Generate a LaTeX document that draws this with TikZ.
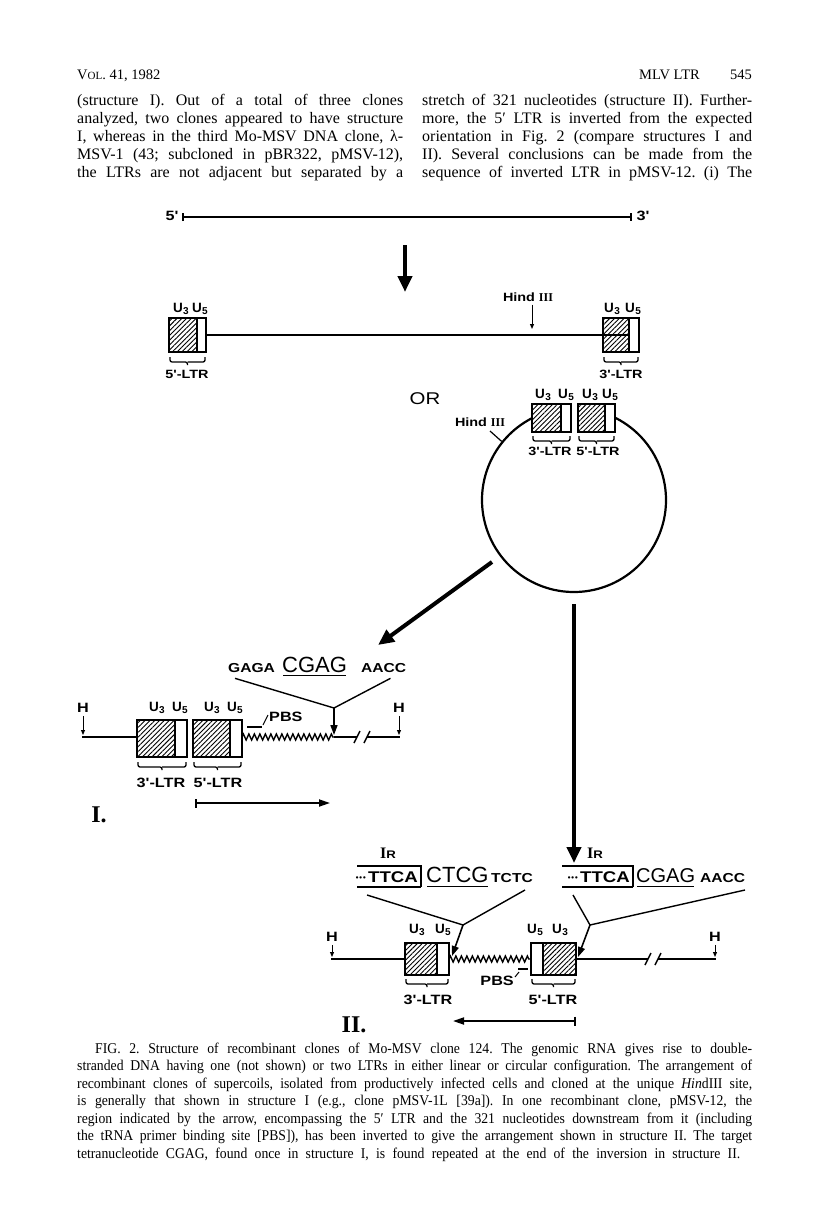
\documentclass[tikz,border=0pt]{standalone}
\usepackage{fontspec}
\setmainfont{Liberation Serif}
\newfontfamily\capfont[FakeStretch=0.92]{Liberation Serif}
\newfontfamily\labfont[FakeStretch=1.2]{Liberation Sans}
\newfontfamily\seqfont[FakeStretch=1.2]{Liberation Sans}
\newfontfamily\plainsans{Liberation Sans}
\usetikzlibrary{arrows.meta, positioning, calc, patterns.meta, decorations.pathmorphing}
\frenchspacing

% U3 / U5 region labels
\newcommand{\uu}[1]{{\plainsans U\kern0.3pt\raisebox{-2.5pt}{\fontsize{10}{10}\selectfont #1}}}
% LTR box: hatch x1..x2, frame x3..x4, top, bottom
\newcommand{\ltrbx}[6]{%
  \fill[hatch] (#1,#5) rectangle (#2,#6);
  \draw[frame] (#3,#5) rectangle (#4,#6) (#1,#5) -- (#1,#6) (#2,#5) -- (#2,#6);}
% square brace under a box: x1, x2, y
\newcommand{\ubr}[3]{%
  \draw[brc] (#1,#3) |- ({(#1+#2)/2},#3+5) -- ({(#1+#2)/2},#3+8);
  \draw[brc] (#2,#3) |- ({(#1+#2)/2},#3+5);}
% break mark on a line
\newcommand{\brk}[2]{\draw[line width=1.4pt] (#1-3,#2+6) -- (#1+3,#2-6) (#1+7,#2+6) -- (#1+13,#2-6);}

\begin{document}
\begin{tikzpicture}[x=1pt, y=-1pt,
  dna/.style={line width=1.8pt},
  frame/.style={line width=1.6pt},
  hatch/.style={pattern={Lines[angle=45,distance=3.4pt,line width=0.9pt]}},
  brc/.style={line width=1.3pt, rounded corners=2pt},
  ring/.style={line width=2.2pt},
  bigarrow/.style={line width=4pt, -{Triangle[length=16pt,width=14pt]}},
  smallarrow/.style={line width=1pt, -{Triangle[length=5pt,width=4pt]}},
  midarrow/.style={line width=1.6pt, -{Triangle[length=10pt,width=7pt]}},
  lab/.style={font=\labfont\bfseries\fontsize{13.5}{14}\selectfont, inner sep=0pt},
  slab/.style={font=\labfont\bfseries\fontsize{12}{13}\selectfont, inner sep=0pt},
  ulab/.style={font=\bfseries\fontsize{13.5}{14}\selectfont, inner sep=0pt},
  seq/.style={font=\seqfont\bfseries\fontsize{13}{14}\selectfont, inner sep=0pt, anchor=base west},
  bigseq/.style={font=\plainsans\fontsize{22}{22}\selectfont, inner sep=0pt, anchor=base west},
  txt/.style={font=\fontsize{16}{18}\selectfont, inner sep=0pt, anchor=base west},
  captxt/.style={font=\capfont\fontsize{14.9}{17}\selectfont, inner sep=0pt, anchor=base west},
  roman/.style={font=\bfseries\fontsize{24}{24}\selectfont, inner sep=0pt}]
\useasboundingbox (0,0) rectangle (816,1207);

% running head and text
\node[txt, font=\fontsize{14.5}{17}\selectfont] (vol) at (77,80) {V{\fontsize{11}{10}\selectfont OL}. 41, 1982};
\node[txt, anchor=base east, font=\fontsize{14.5}{17}\selectfont] (pg) at (752,80) {545};
\node[txt, anchor=base east, font=\fontsize{14.5}{17}\selectfont] (runt) at (700,80) {MLV LTR};
\foreach \lin [count=\i] in {{(structure I). Out of a total of three clones},
  {analyzed, two clones appeared to have structure},
  {I, whereas in the third Mo-MSV DNA clone, λ-},
  {MSV-1 (43; subcloned in pBR322, pMSV-12),},
  {the LTRs are not adjacent but separated by a}}
  \node[txt] (lft\i) at (77,{87+18*\i}) {\makebox[326pt][s]{\lin}};
\foreach \lin [count=\i] in {{stretch of 321 nucleotides (structure II). Further-},
  {more, the 5′ LTR is inverted from the expected},
  {orientation in Fig. 2 (compare structures I and},
  {II). Several conclusions can be made from the},
  {sequence of inverted LTR in pMSV-12. (i) The}}
  \node[txt] (rgt\i) at (422,{87+18*\i}) {\makebox[330pt][s]{\lin}};

% genomic RNA
\draw[dna, {Bar[width=8pt]}-{Bar[width=8pt]}] (182,217) -- (632,217);
\node[lab] (p5) at (172,216) {5'};
\node[lab] (p3) at (643,216) {3'};
\draw[bigarrow] (405,245) -- (405,292);

% linear DNA
\ltrbx{169}{197}{169}{206}{318}{352}
\ltrbx{603}{629}{603}{639}{318}{352}
\draw[dna] (206,335) -- (629,335);
\node[ulab] (ua1) at (181,309) {\uu3};
\node[ulab] (ua2) at (200,309) {\uu5};
\node[ulab] (ub1) at (612,309) {\uu3};
\node[ulab] (ub2) at (633,309) {\uu5};
\ubr{170}{205}{357}
\ubr{604}{638}{357}
\node[slab] (ltrL5) at (187,374) {5'-LTR};
\node[slab] (ltrL3) at (621,374) {3'-LTR};
\node[slab] (hindL) at (528,297) {Hind {\rmfamily III}};
\coordinate (hindLt) at (532,329);
\draw[smallarrow] (hindL.south -| hindLt) ++(0,3) -- (hindLt);
\node[lab, font=\labfont\fontsize{17}{17}\selectfont] (or) at (425,399) {OR};

% circular DNA
\coordinate (circ) at (574,500);
\ltrbx{532}{561}{532}{571}{404}{432}
\ltrbx{578}{605}{578}{615}{404}{432}
\draw[ring] ($(circ)+(-63:92)$) arc[start angle=-63, end angle=243, radius=92];
\node[ulab] (uc1) at (543,395) {\uu3};
\node[ulab] (uc2) at (566,395) {\uu5};
\node[ulab] (uc3) at (590,395) {\uu3};
\node[ulab] (uc4) at (610,395) {\uu5};
\ubr{533}{570}{436}
\ubr{579}{614}{436}
\node[slab] (ltrC3) at (550,451) {3'-LTR};
\node[slab] (ltrC5) at (598,451) {5'-LTR};
\node[slab] (hindC) at (480,422) {Hind {\rmfamily III}};
\draw[line width=1.2pt] (490,431) -- ($(circ)+(-141:93)$);

% arrows to the two clone structures
\coordinate (dgA) at (492,562);
\coordinate (dgB) at (378,645);
\draw[bigarrow] (dgA) -- (dgB);
\coordinate (vtA) at (574,604);
\coordinate (vtB) at (574,863);
\draw[bigarrow] (vtA) -- (vtB);

% structure I
\node[seq] (gagaA) at (228,672) {GAGA};
\node[bigseq] (cgagA) at (282,672) {CGAG};
\node[seq] (aaccA) at (361,672) {AACC};
\draw[line width=1.3pt] ($(cgagA.south west)+(1,3)$) -- ($(cgagA.south east)+(-1,3)$);
\coordinate (insA) at (334,708);
\draw[line width=1.4pt] ($(gagaA.south west)+(7,6)$) -- (insA) -- ($(aaccA.south east)+(-16,6)$);
\draw[midarrow] (insA) -- (334,735);
\node[lab] (hA) at (83,708) {H};
\node[lab] (hB) at (399,708) {H};
\draw[smallarrow] (hA.south) ++(0,3) -- (83,735);
\draw[smallarrow] (hB.south) ++(0,3) -- (399,735);
\draw[dna] (82,737) -- (137,737);
\ltrbx{137}{175}{137}{187}{720}{757}
\ltrbx{193}{230}{193}{242}{720}{757}
\draw[line width=1.4pt, decorate, decoration={zigzag, segment length=5.5pt, amplitude=3pt}] (242,737) -- (334,737);
\draw[dna] (334,737) -- (357,737);
\brk{357}{737}
\draw[dna] (367,737) -- (400,737);
\node[ulab] (uI1) at (157,708) {\uu3};
\node[ulab] (uI2) at (180,708) {\uu5};
\node[ulab] (uI3) at (212,708) {\uu3};
\node[ulab] (uI4) at (235,708) {\uu5};
\ubr{138}{186}{762}
\ubr{194}{241}{762}
\node[lab] (ltrI3) at (161,783) {3'-LTR};
\node[lab] (ltrI5) at (218,783) {5'-LTR};
\draw[line width=2.2pt] (247,727) -- (262,727);
\draw[line width=1pt] (263,725) -- (268,715);
\node[lab, anchor=west] (pbsI) at (269,717) {PBS};
\draw[line width=1.8pt, {Bar[width=9pt]}-{Triangle[length=11pt,width=7pt]}] (195,803) -- (330,803);
\node[roman] (numI) at (99,815) {I.};

% structure II
\node[lab, font=\bfseries\fontsize{16}{16}\selectfont] (irA) at (388,853) {I{\labfont\fontsize{11}{11}\selectfont R}};
\node[lab, font=\bfseries\fontsize{16}{16}\selectfont] (irB) at (595,853) {I{\labfont\fontsize{11}{11}\selectfont R}};
\node[seq, anchor=base east, font=\labfont\bfseries\fontsize{15.5}{16}\selectfont] (ttcaA) at (418,882) {TTCA};
\node[seq, anchor=base east, font=\labfont\bfseries\fontsize{15.5}{16}\selectfont] (ttcaB) at (630,882) {TTCA};
\node[seq, anchor=base east, font=\bfseries\fontsize{14}{14}\selectfont] (dotA) at ([xshift=-1pt]ttcaA.base west) {\textperiodcentered\kern-1pt\textperiodcentered\kern-1pt\textperiodcentered};
\node[seq, anchor=base east, font=\bfseries\fontsize{14}{14}\selectfont] (dotB) at ([xshift=-1pt]ttcaB.base west) {\textperiodcentered\kern-1pt\textperiodcentered\kern-1pt\textperiodcentered};
\draw[line width=1.3pt] (357,866) -- (421,866) -- (421,887) (357,887) -- (421,887);
\draw[line width=1.3pt] (562,866) -- (633,866) -- (633,887) (562,887) -- (633,887);
\node[bigseq] (ctcgA) at (426,882) {CTCG};
\node[bigseq, font=\plainsans\fontsize{20}{20}\selectfont] (cgagB) at (636,882) {CGAG};
\draw[line width=1.3pt] ($(ctcgA.south west)+(1,4)$) -- ($(ctcgA.south east)+(-1,4)$);
\draw[line width=1.3pt] ($(cgagB.south west)+(1,4)$) -- ($(cgagB.south east)+(-1,4)$);
\node[seq] (tctcA) at (491,882) {TCTC};
\node[seq] (aaccB) at (700,882) {AACC};
\coordinate (insB) at (463,925);
\coordinate (insC) at (590,925);
\draw[line width=1.4pt] (367,895) -- (insB) -- (525,890);
\draw[line width=1.4pt] (573,895) -- (insC) -- (745,890);
\draw[midarrow] (insB) -- (452,956);
\draw[midarrow] (insC) -- (578,957);
\node[lab] (hC) at (332,937) {H};
\node[lab] (hD) at (715,937) {H};
\draw[smallarrow] (hC.south) ++(0,3) -- (332,957);
\draw[smallarrow] (hD.south) ++(0,3) -- (715,957);
\draw[dna] (331,959) -- (405,959);
\ltrbx{405}{437}{405}{449}{943}{975}
\ltrbx{543}{576}{531}{576}{943}{975}
\draw[line width=1.4pt, decorate, decoration={zigzag, segment length=5.5pt, amplitude=3pt}] (449,959) -- (531,959);
\draw[dna] (576,959) -- (648,959);
\brk{648}{959}
\draw[dna] (658,959) -- (716,959);
\node[ulab] (uII1) at (417,930) {\uu3};
\node[ulab] (uII2) at (443,930) {\uu5};
\node[ulab] (uII3) at (535,930) {\uu5};
\node[ulab] (uII4) at (560,930) {\uu3};
\ubr{406}{448}{979}
\ubr{532}{575}{979}
\node[lab] (ltrII3) at (428,1000) {3'-LTR};
\node[lab] (ltrII5) at (553,1000) {5'-LTR};
\draw[line width=2.2pt] (518,969) -- (528,969);
\node[lab, anchor=east] (pbsII) at (514,981) {PBS};
\draw[line width=1pt] (515,977) -- (519,972);
\draw[line width=1.8pt, {Triangle[length=11pt,width=7pt]}-{Bar[width=9pt]}] (453,1021) -- (576,1021);
\node[roman] (numII) at (354,1025) {II.};

% legend
\node[captxt] (cap1) at (95,1053) {\makebox[657pt][s]{FIG. 2. Structure of recombinant clones of Mo-MSV clone 124. The genomic RNA gives rise to double-}};
\foreach \lin [count=\i from 2] in {{stranded DNA having one (not shown) or two LTRs in either linear or circular configuration. The arrangement of},
  {recombinant clones of supercoils, isolated from productively infected cells and cloned at the unique \textit{Hin}dIII site,},
  {is generally that shown in structure I (e.g., clone pMSV-1L [39a]). In one recombinant clone, pMSV-12, the},
  {region indicated by the arrow, encompassing the 5′ LTR and the 321 nucleotides downstream from it (including},
  {the tRNA primer binding site [PBS]), has been inverted to give the arrangement shown in structure II. The target}}
  \node[captxt] (cap\i) at (77,{1053+17.5*(\i-1)}) {\makebox[675pt][s]{\lin}};
\node[captxt] (cap7) at (77,{1053+17.5*6}) {\makebox[663pt][s]{tetranucleotide CGAG, found once in structure I, is found repeated at the end of the inversion in structure II.}};
\end{tikzpicture}
\end{document}
